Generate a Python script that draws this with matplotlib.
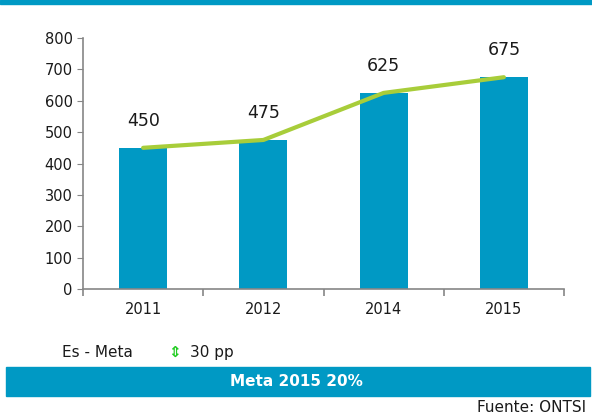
import matplotlib.pyplot as plt
import numpy as np

years = ['2011', '2012', '2014', '2015']
bar_values = [450, 475, 625, 675]
line_values = [450, 475, 625, 675]
y_ticks = [0, 100, 200, 300, 400, 500, 600, 700, 800]

blue = '#0099c4'
green = '#a8cd3a'

fig = plt.figure(figsize=(5.92, 4.19), dpi=100)
W, H = 592, 419

# plot area in pixel coordinates
left, right, top, bottom = 83, 564, 38, 289
ax = fig.add_axes([left / W, 1 - bottom / H, (right - left) / W, (bottom - top) / H])

x = np.arange(len(years))
ax.bar(x, bar_values, width=0.4, color=blue, zorder=2)
ax.plot(x, line_values, color=green, linewidth=3, solid_capstyle='round', zorder=3)

for xi, v in zip(x, bar_values):
    ax.annotate(str(v), (xi, v), xytext=(0, 13), textcoords='offset points',
                ha='center', va='bottom', fontsize=12.5, color='#1a1a1a')

ax.set_xlim(-0.5, len(years) - 0.5)
ax.set_ylim(0, 800)
ax.set_yticks(y_ticks)
ax.set_xticks(x)
ax.set_xticklabels(years)
ax.set_xticks(np.arange(-0.5, len(years), 1.0), minor=True)
ax.tick_params(axis='both', labelsize=10.5, colors='#868686', labelcolor='#1a1a1a', length=4)
ax.tick_params(axis='x', which='major', length=0, pad=9)
ax.tick_params(axis='x', which='minor', length=5, width=1.2, colors='#868686')
for s in ['top', 'right']:
    ax.spines[s].set_visible(False)
for s in ['left', 'bottom']:
    ax.spines[s].set_color('#868686')
    ax.spines[s].set_linewidth(1.2)

# top rule
fig.patches.append(plt.Rectangle((0, 1 - 4 / H), 1, 4 / H, transform=fig.transFigure,
                                 color=blue, zorder=0))

# footer
fig.text(62 / W, 1 - 352 / H, 'Es - Meta', fontsize=11, va='center', ha='left', color='#1a1a1a')
fig.text(174 / W, 1 - 352 / H, '\u21d5', fontsize=11, va='center', ha='center',
         color='#22cc22', fontweight='bold')
fig.text(190 / W, 1 - 352 / H, '30 pp', fontsize=11, va='center', ha='left', color='#1a1a1a')

fig.patches.append(plt.Rectangle((6 / W, 1 - 396 / H), 584 / W, 29 / H,
                                 transform=fig.transFigure, color=blue, zorder=0))
fig.text(296 / W, 1 - 381 / H, 'Meta 2015 20%', fontsize=11, fontweight='bold',
         color='white', va='center', ha='center')
fig.text(586 / W, 1 - 407 / H, 'Fuente: ONTSI', fontsize=11, va='center', ha='right',
         color='#1a1a1a')

fig.savefig('out.png', dpi=100)
